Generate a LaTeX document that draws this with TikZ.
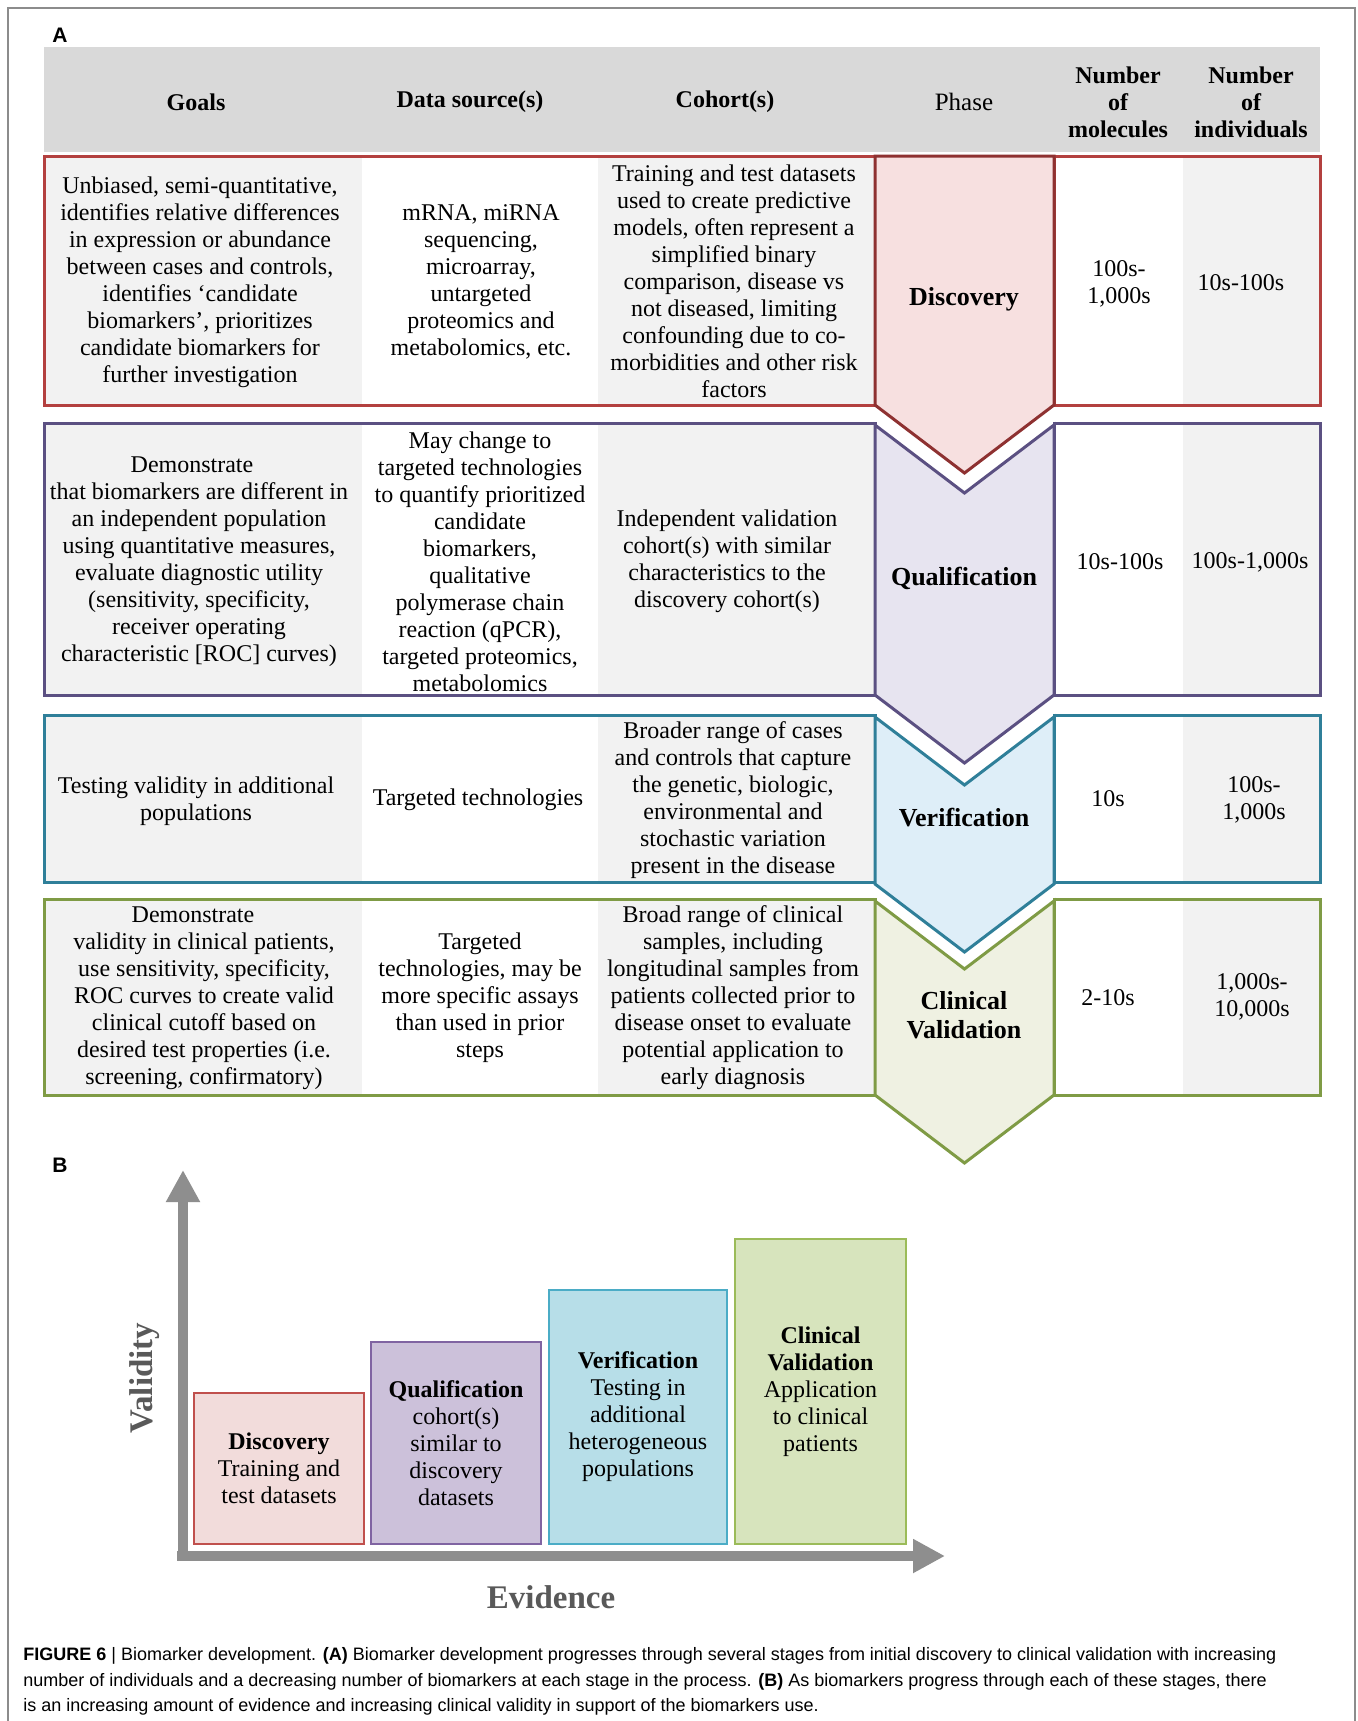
\documentclass[tikz,border=0pt]{standalone}
\usepackage{fontspec}
\setmainfont{Liberation Serif}
\setsansfont{Liberation Sans}
\usetikzlibrary{arrows.meta}

\definecolor{headgray}{HTML}{D9D9D9}
\definecolor{cellgray}{HTML}{F2F2F2}
\definecolor{framegray}{HTML}{8C8C8C}
\definecolor{disB}{HTML}{B3403F}
\definecolor{disC}{HTML}{8E3131}
\definecolor{disF}{HTML}{F7E0E0}
\definecolor{quaB}{HTML}{5B5082}
\definecolor{quaF}{HTML}{E7E4F0}
\definecolor{verB}{HTML}{2F7F99}
\definecolor{verF}{HTML}{DEEEF8}
\definecolor{cliB}{HTML}{7F9B45}
\definecolor{cliF}{HTML}{EFF1E2}
\definecolor{barDisF}{HTML}{F2DCDB}
\definecolor{barDisB}{HTML}{C0504D}
\definecolor{barQuaF}{HTML}{CCC1DA}
\definecolor{barQuaB}{HTML}{8064A2}
\definecolor{barVerF}{HTML}{B7DEE8}
\definecolor{barVerB}{HTML}{4BACC6}
\definecolor{barCliF}{HTML}{D7E4BD}
\definecolor{barCliB}{HTML}{9BBB59}
\definecolor{axisgray}{HTML}{8E8E8E}
\definecolor{labelgray}{HTML}{595959}

% cell backgrounds and the two framed boxes of one table row
\newcommand{\rowcells}[3]{%
  \fill[cellgray] (44,#1) rectangle (362,#2);
  \fill[cellgray] (598,#1) rectangle (875,#2);
  \fill[cellgray] (1183,#1) rectangle (1320,#2);
  \draw[rowbox,#3] (44,#1) rectangle (875,#2);
  \draw[rowbox,#3] (1054,#1) rectangle (1320,#2);
}

\tikzset{
  celltext/.style={font=\fontsize{12}{13.5}\selectfont, align=center, inner sep=0pt},
  headtext/.style={font=\bfseries\fontsize{12}{13.5}\selectfont, align=center, inner sep=0pt},
  phaselabel/.style={font=\bfseries\fontsize{13}{14.5}\selectfont, align=center, inner sep=0pt},
  rowbox/.style={line width=1.5pt},
  chevron/.style={line width=1.5pt, line join=miter},
  stagebar/.style={rectangle, line width=1pt, inner sep=0pt, align=center,
    font=\fontsize{12}{13.5}\selectfont},
  axisarrow/.style={draw=axisgray, line width=5.2pt,
    -{Triangle[width=16pt,length=16pt]}},
  panellabel/.style={font=\sffamily\bfseries\fontsize{10.5}{12}\selectfont, inner sep=0pt},
  axislabel/.style={font=\bfseries\fontsize{16.5}{18}\selectfont, text=labelgray, inner sep=0pt},
  captiontext/.style={font=\sffamily\fontsize{9}{12.8}\selectfont, align=left, inner sep=0pt},
}

\begin{document}
\begin{tikzpicture}[x=0.5pt,y=-0.5pt]
\useasboundingbox (0,0) rectangle (1357,1721);
\fill[white] (0,0) rectangle (1357,1721);

% page frame
\draw[framegray, line width=0.6pt] (8,1721) -- (8,8) -- (1355,8) -- (1355,1721);

% ---------------- panel A ----------------
\node[panellabel] (lblA) at (60,35) {A};

\fill[headgray] (44,47) rectangle (1320,152);
\node[headtext] (hGoals) at (196,102) {Goals};
\node[headtext] (hData) at (470,102) {Data source(s)};
\node[headtext] (hCohort) at (725,102) {Cohort(s)};
\node[celltext, font=\fontsize{12.5}{14}\selectfont] (hPhase) at (964,102) {Phase};
\node[headtext] (hMol) at (1118,102) {Number\\of\\molecules};
\node[headtext] (hInd) at (1251,102) {Number\\of\\individuals};

\rowcells{156}{405}{disB}
\rowcells{423}{695}{quaB}
\rowcells{715}{882}{verB}
\rowcells{899}{1095}{cliB}

% phase chevrons
\filldraw[chevron, draw=disC, fill=disF] (875,156) -- (1054,156) -- (1054,405)
  -- (964.5,473) -- (875,405) -- cycle;
\filldraw[chevron, draw=quaB, fill=quaF] (875,425) -- (964.5,493) -- (1054,425)
  -- (1054,695) -- (964.5,763) -- (875,695) -- cycle;
\filldraw[chevron, draw=verB, fill=verF] (875,717) -- (964.5,785) -- (1054,717)
  -- (1054,884) -- (964.5,952) -- (875,884) -- cycle;
\filldraw[chevron, draw=cliB, fill=cliF] (875,901) -- (964.5,969) -- (1054,901)
  -- (1054,1095) -- (964.5,1163) -- (875,1095) -- cycle;

% row 1: discovery
\node[celltext] (g1) at (200,282) {Unbiased, semi-quantitative,\\identifies relative differences\\in expression or abundance\\between cases and controls,\\identifies ‘candidate\\biomarkers’, prioritizes\\candidate biomarkers for\\further investigation};
\node[celltext] (d1) at (481,282) {mRNA, miRNA\\sequencing,\\microarray,\\untargeted\\proteomics and\\metabolomics, etc.};
\node[celltext] (c1) at (734,281) {Training and test datasets\\used to create predictive\\models, often represent a\\simplified binary\\comparison, disease vs\\not diseased, limiting\\confounding due to co-\\morbidities and other risk\\factors};
\node[phaselabel] (p1) at (964,299) {Discovery};
\node[celltext] (m1) at (1119,284) {100s-\\1,000s};
\node[celltext] (n1) at (1241,283) {10s-100s};

% row 2: qualification
\node[celltext] (g2) at (199,562) {Demonstrate\hspace*{7pt}\\that biomarkers are different in\\an independent population\\using quantitative measures,\\evaluate diagnostic utility\\(sensitivity, specificity,\\receiver operating\\characteristic [ROC] curves)};
\node[celltext] (d2) at (480,562) {May change to\\targeted technologies\\to quantify prioritized\\candidate\\biomarkers,\\qualitative\\polymerase chain\\reaction (qPCR),\\targeted proteomics,\\metabolomics};
\node[celltext] (c2) at (727,561) {Independent validation\\cohort(s) with similar\\characteristics to the\\discovery cohort(s)};
\node[phaselabel] (p2) at (964,578) {Qualification};
\node[celltext] (m2) at (1120,562) {10s-100s};
\node[celltext] (n2) at (1250,562) {100s-1,000s};

% row 3: verification
\node[celltext] (g3) at (196,801) {Testing validity in additional\\populations};
\node[celltext] (d3) at (478,800) {Targeted technologies};
\node[celltext] (c3) at (733,800) {Broader range of cases\\and controls that capture\\the genetic, biologic,\\environmental and\\stochastic variation\\present in the disease};
\node[phaselabel] (p3) at (964,818) {Verification};
\node[celltext] (m3) at (1108,799) {10s};
\node[celltext] (n3) at (1254,800) {100s-\\1,000s};

% row 4: clinical validation
\node[celltext] (g4) at (204,998) {Demonstrate\hspace*{11pt}\\validity in clinical patients,\\use sensitivity, specificity,\\ROC curves to create valid\\clinical cutoff based on\\desired test properties (i.e.\\screening, confirmatory)};
\node[celltext] (d4) at (480,998) {Targeted\\technologies, may be\\more specific assays\\than used in prior\\steps};
\node[celltext] (c4) at (733,998) {Broad range of clinical\\samples, including\\longitudinal samples from\\patients collected prior to\\disease onset to evaluate\\potential application to\\early diagnosis};
\node[phaselabel] (p4) at (964,1015) {Clinical\\Validation};
\node[celltext] (m4) at (1108,998) {2-10s};
\node[celltext] (n4) at (1252,997) {1,000s-\\10,000s};

% ---------------- panel B ----------------
\node[panellabel] (lblB) at (60,1165) {B};

\node[stagebar, draw=barDisB, fill=barDisF, minimum width=85pt, minimum height=75.5pt]
  (bDis) at (279,1468.5) {\textbf{Discovery}\\Training and\\test datasets};
\node[stagebar, draw=barQuaB, fill=barQuaF, minimum width=85pt, minimum height=101pt]
  (bQua) at (456,1443) {\textbf{Qualification}\\cohort(s)\\similar to\\discovery\\datasets};
\node[stagebar, draw=barVerB, fill=barVerF, minimum width=89pt, minimum height=127pt]
  (bVer) at (638,1417) {\textbf{Verification}\\Testing in\\additional\\heterogeneous\\populations};
\node[stagebar, draw=barCliB, fill=barCliF, minimum width=85.5pt, minimum height=152.5pt]
  (bCli) at (820.5,1391.5) {\textbf{Clinical}\\\textbf{Validation}\\Application\\to clinical\\patients};

% axes
\coordinate (yfoot) at (183,1561);
\coordinate (ytip) at (183,1170);
\coordinate (xfoot) at (177,1556);
\coordinate (xtip) at (945,1556);
\draw[axisarrow] (yfoot) -- (ytip);
\draw[axisarrow] (xfoot) -- (xtip);

\node[axislabel, rotate=90] (validity) at (145,1378) {Validity};
\node[axislabel] (evidence) at (551,1597) {Evidence};

% caption
\node[captiontext, anchor=north west] (caption) at (23,1647)
  {\textbf{FIGURE 6} | Biomarker development. \textbf{(A)} Biomarker development progresses through several stages from initial discovery to clinical validation with increasing\\
   number of individuals and a decreasing number of biomarkers at each stage in the process. \textbf{(B)} As biomarkers progress through each of these stages, there\\
   is an increasing amount of evidence and increasing clinical validity in support of the biomarkers use.};
\end{tikzpicture}
\end{document}
